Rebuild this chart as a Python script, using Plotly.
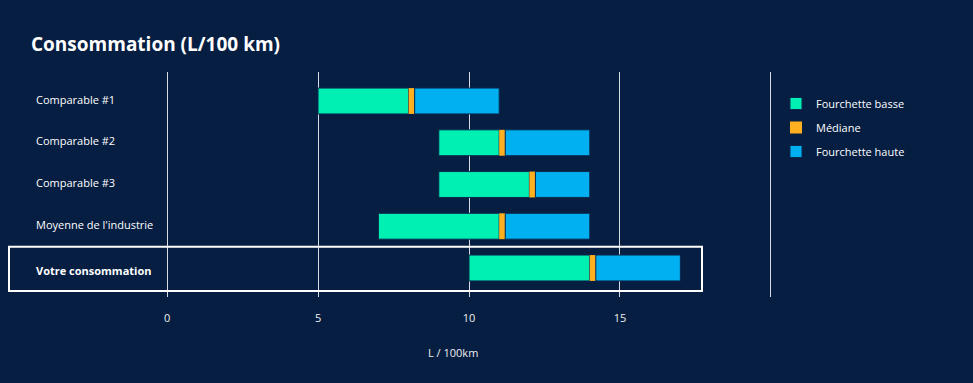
import plotly.graph_objects as go

categories = ["Comparable #1", "Comparable #2", "Comparable #3", "Moyenne de l'industrie", "Votre consommation"]
low_start = [5, 9, 9, 7, 10]
median = [8, 11, 12, 11, 14]
high_end = [11, 14, 14, 14, 17]
median_width = 0.2
x_ticks = [0, 5, 10, 15, 20]
x_tick_labels = ["0", "5", "10", "15", ""]

BG = "#061e42"
GREEN = "#00f0b4"
ORANGE = "#ffb020"
BLUE = "#00b0f0"
FONT = "Open Sans"

fig = go.Figure()
line = dict(color="#0a2a50", width=1)
fig.add_trace(go.Bar(
    name="Fourchette basse", y=categories, orientation="h",
    base=low_start, x=[m - s for m, s in zip(median, low_start)],
    marker=dict(color=GREEN, line=line), width=0.62,
    legendgroup="a"))
fig.add_trace(go.Bar(
    name="Médiane", y=categories, orientation="h",
    base=median, x=[median_width] * len(median),
    marker=dict(color=ORANGE, line=dict(width=0)), width=0.62,
    legendgroup="b"))
fig.add_trace(go.Bar(
    name="Fourchette haute", y=categories, orientation="h",
    base=[m + median_width for m in median],
    x=[h - m - median_width for h, m in zip(high_end, median)],
    marker=dict(color=BLUE, line=line), width=0.62,
    legendgroup="c"))

W, H = 973, 383
L, R, T, B = 166, W - 772, 72, H - 297
pw = W - L - R

annotations = []
for i, c in enumerate(categories):
    bold = (i == len(categories) - 1)
    annotations.append(dict(
        text=f"<b>{c}</b>" if bold else c, x=(34 - L) / pw, xref="paper", xanchor="left",
        y=c, yref="y", yanchor="middle", yshift=2 if not bold else -3, showarrow=False,
        font=dict(family=FONT, size=11, color="#ffffff")))
annotations.append(dict(
    text="L / 100km", x=(453 - L) / pw, xref="paper", xanchor="center",
    y=-(352 - 297) / (297 - 72), yref="paper", yanchor="middle", showarrow=False,
    font=dict(family=FONT, size=11, color="#eeeeee")))

fig.update_layout(
    width=W, height=H,
    margin=dict(l=L, r=R, t=T, b=B),
    paper_bgcolor=BG, plot_bgcolor=BG,
    barmode="overlay",
    title=dict(text="<b>Consommation (L/100 km)</b>", xref="container", x=31 / W, xanchor="left",
               yref="container", y=1 - 44 / H, yanchor="middle",
               font=dict(family=FONT, size=19, color="#ffffff")),
    xaxis=dict(range=[-0.035, 20.035], tickvals=x_ticks, ticktext=x_tick_labels,
               showgrid=True, gridcolor="rgba(255,255,255,0.85)", gridwidth=1,
               zeroline=False, showline=False, ticks="outside", ticklen=11,
               tickcolor="rgba(0,0,0,0)",
               tickfont=dict(family=FONT, size=11, color="#eeeeee")),
    yaxis=dict(type="category", categoryorder="array", categoryarray=categories,
               range=[len(categories) - 1 + 0.695, -0.695],
               showticklabels=False, showgrid=False, zeroline=False, ticks=""),
    legend=dict(x=(776 - L) / pw, xanchor="left", y=(297 - 89) / (297 - 72), yanchor="top",
                traceorder="grouped", tracegroupgap=5,
                font=dict(family=FONT, size=11, color="#ffffff"),
                bgcolor="rgba(0,0,0,0)"),
    annotations=annotations,
    shapes=[dict(type="rect", xref="paper", yref="y",
                 x0=(9 - L) / pw, x1=(702 - L) / pw,
                 y0=len(categories) - 1 - 0.51, y1=len(categories) - 1 + 0.55,
                 line=dict(color="#ffffff", width=2), fillcolor="rgba(0,0,0,0)",
                 layer="above")],
    showlegend=True,
)

fig.write_html(
    "out.html",
    config={"displayModeBar": False},
    post_script="document.body.style.margin='0';document.body.style.background='%s';" % BG,
)
